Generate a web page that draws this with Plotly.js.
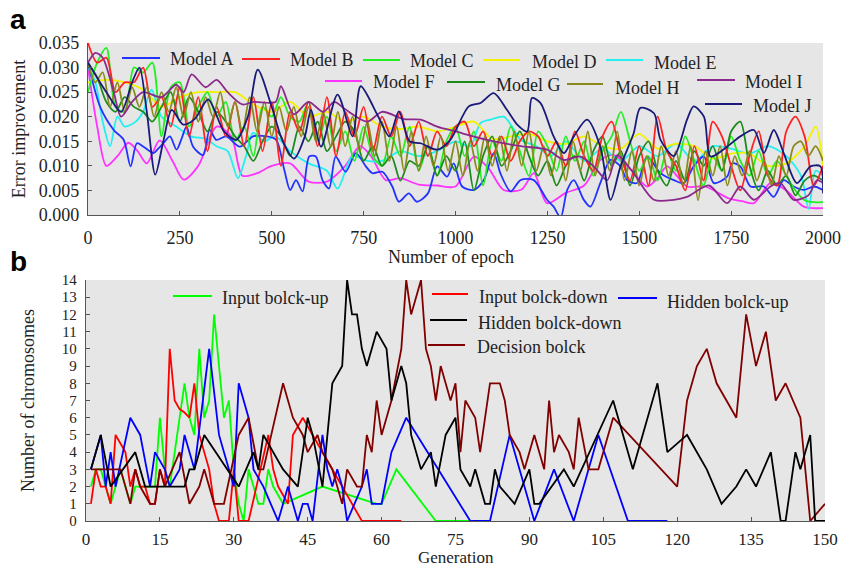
<!DOCTYPE html>
<html><head><meta charset="utf-8">
<script src="https://cdn.plot.ly/plotly-3.0.1.min.js"></script>
<style>html,body{margin:0;padding:0;background:#fff}#chart{width:841px;height:568px}</style>
</head><body><div id="chart"></div>
<script>
// ---------- Panel a data ----------
const epochs25 = [0,25,50,75,100,125,150,175,200,225,250,275,300,325,350,375,400,425,450,475,500,525,550,575,600,625,650,675,700,725,750,775,800,825,850,875,900,925,950,975,1000,1025,1050,1075,1100,1125,1150,1175,1200,1225,1250,1275,1300,1325,1350,1375,1400,1425,1450,1475,1500,1525,1550,1575,1600,1625,1650,1675,1700,1725,1750,1775,1800,1825,1850,1875,1900,1925,1950,1975,2000];
const epochs20 = [0,20,40,60,80,100,120,140,160,180,200,220,240,260,280,300,320,340,360,380,400,420,440,460,480,500,520,540,560,580,600,620,640,660,680,700,720,740,760,780,800,820,840,860,880,900,920,940,960,980,1000,1020,1040,1060,1080,1100,1120,1140,1160,1180,1200,1220,1240,1260,1280,1300,1320,1340,1360,1380,1400,1420,1440,1460,1480,1500,1520,1540,1560,1580,1600,1620,1640,1660,1680,1700,1720,1740,1760,1780,1800,1820,1840,1860,1880,1900,1920,1940,1960,1980,2000];

const xA = [0,33,70,97,116,133,151,178,191,205,223,241,255,268,286,313,331,349,376,413,449,485,512,534,550,566,584,602,620,638,656,674,701,729,756,774,801,828,846,873,895,925,950,977,995,1018,1050,1077,1104,1122,1150,1177,1213,1249,1267,1286,1304,1322,1349,1367,1394,1422,1449,1467,1494,1521,1558,1594,1621,1648,1676,1703,1739,1753,1775,1803,1839,1866,1893,1920,1948,1975,2000];
const yA = [0.031,0.022,0.0173,0.0153,0.0099,0.0146,0.0139,0.0126,0.0135,0.0146,0.016,0.0133,0.0156,0.018,0.0139,0.0122,0.0173,0.0153,0.016,0.0139,0.016,0.016,0.0153,0.0092,0.0051,0.0071,0.0048,0.0119,0.0119,0.0071,0.0054,0.0119,0.0088,0.0126,0.0099,0.0085,0.0088,0.0058,0.0027,0.0044,0.0027,0.0044,0.0099,0.0078,0.0105,0.0058,0.0051,0.0071,0.0126,0.0085,0.0048,0.0071,0.0071,0.0031,0.0017,-0.0005,0.0051,0.0071,0.0031,0.0017,0.0065,0.0112,0.0099,0.0071,0.0065,0.0119,0.0085,0.0071,0.0065,0.0099,0.0119,0.0065,0.0078,0.0105,0.0099,0.0058,0.0058,0.0037,0.0071,0.0058,0.0051,0.0058,0.0051];
const yB = [0.035,0.031,0.032,0.025,0.027,0.027,0.030,0.022,0.024,0.018,
 0.026,0.016,0.024,0.013,0.022,0.016,0.023,0.014,0.024,0.013,
 0.023,0.010,0.021,0.017,0.023,0.014,0.024,0.012,0.021,0.016,
 0.022,0.013,0.020,0.016,0.021,0.014,0.019,0.012,0.017,0.014,
 0.018,0.019,0.014,0.017,0.012,0.016,0.011,0.015,0.017,0.016,
 0.012,0.015,0.010,0.017,0.012,0.009,0.016,0.019,0.012,0.007,
 0.014,0.006,0.020,0.013,0.010,0.005,0.014,0.007,0.019,0.016,
 0.010,0.005,0.012,0.017,0.008,0.006,0.017,0.020,0.016,0.006,0.010];
const yC = [0.025,0.031,0.034,0.022,0.021,0.030,0.029,0.031,0.016,0.026,
 0.027,0.018,0.022,0.025,0.020,0.023,0.015,0.018,0.012,0.022,
 0.020,0.024,0.020,0.019,0.023,0.015,0.020,0.013,0.017,0.011,
 0.018,0.012,0.010,0.016,0.012,0.018,0.009,0.014,0.008,0.015,
 0.018,0.012,0.017,0.006,0.015,0.011,0.018,0.013,0.008,0.017,
 0.014,0.009,0.016,0.011,0.015,0.008,0.013,0.016,0.021,0.015,
 0.009,0.012,0.007,0.013,0.009,0.016,0.011,0.006,0.012,0.009,
 0.016,0.011,0.008,0.013,0.008,0.011,0.008,0.005,0.003,0.0026,0.0026];
const xD = [0,50,100,150,200,250,300,350,400,450,500,550,600,650,700,750,800,850,900,950,1000,1050,1100,1150,1200,1250,1300,1350,1400,1450,1500,1550,1600,1650,1700,1750,1800,1850,1900,1950,1980,2000];
const yD = [0.027,0.0275,0.027,0.0255,0.022,0.024,0.025,0.025,0.025,0.0225,0.021,0.023,0.020,0.021,0.019,0.020,0.018,0.0175,0.018,0.017,0.018,0.019,0.0155,0.016,0.0165,0.015,0.0145,0.016,0.014,0.0135,0.0165,0.0135,0.0145,0.014,0.0115,0.0125,0.0125,0.010,0.0105,0.014,0.018,0.010];
const xE = [0,20,40,60,80,100,130,150,173,200,240,280,320,350,380,408,430,449,480,510,550,600,650,679,720,760,800,850,900,950,1000,1040,1068,1095,1131,1154,1177,1220,1260,1300,1350,1400,1450,1500,1550,1600,1650,1700,1750,1800,1850,1900,1940,1961,1980,2000];
const yE = [0.030,0.027,0.019,0.014,0.020,0.018,0.019,0.021,0.0255,0.020,0.018,0.016,0.0155,0.014,0.013,0.0075,0.012,0.0167,0.015,0.016,0.013,0.0105,0.009,0.0054,0.012,0.011,0.011,0.013,0.012,0.013,0.015,0.014,0.0187,0.0194,0.020,0.018,0.0153,0.014,0.012,0.015,0.011,0.0135,0.011,0.014,0.012,0.0145,0.011,0.014,0.0135,0.0125,0.014,0.012,0.008,0.0012,0.009,0.008];
const xF = [0,25,50,80,110,135,160,195,230,260,300,350,390,420,460,500,550,600,650,700,740,770,810,850,900,950,1000,1050,1090,1131,1180,1213,1249,1300,1350,1394,1431,1480,1521,1550,1576,1630,1680,1740,1780,1812,1857,1900,1948,2000];
const yF = [0.030,0.018,0.010,0.012,0.0147,0.013,0.0105,0.0152,0.011,0.0072,0.010,0.018,0.016,0.008,0.0085,0.010,0.0105,0.0068,0.0068,0.010,0.014,0.012,0.0071,0.0075,0.0062,0.006,0.0058,0.0119,0.0095,0.0051,0.0052,0.0085,0.0024,0.0045,0.006,0.0112,0.0122,0.009,0.0058,0.0075,0.0099,0.0058,0.0058,0.0035,0.0028,0.0024,0.0065,0.005,0.0017,0.0014];
const yG = [0.031,0.028,0.023,0.021,0.024,0.022,0.021,0.019,0.022,0.025,
 0.019,0.024,0.021,0.017,0.021,0.019,0.016,0.014,0.011,0.015,
 0.018,0.016,0.012,0.018,0.015,0.019,0.013,0.016,0.019,0.017,
 0.011,0.014,0.010,0.012,0.007,0.011,0.010,0.014,0.008,0.012,
 0.009,0.015,0.005,0.012,0.016,0.010,0.013,0.017,0.012,0.008,
 0.011,0.006,0.010,0.012,0.007,0.013,0.016,0.010,0.013,0.006,
 0.012,0.015,0.009,0.006,0.011,0.007,0.013,0.010,0.014,0.009,
 0.017,0.019,0.010,0.005,0.009,0.006,0.008,0.004,0.007,0.008,0.007];
const yH = [0.031,0.027,0.029,0.022,0.027,0.021,0.026,0.022,0.026,0.020,
 0.025,0.021,0.026,0.020,0.025,0.019,0.024,0.020,0.025,0.018,
 0.023,0.017,0.024,0.017,0.023,0.016,0.022,0.017,0.022,0.016,
 0.022,0.015,0.021,0.014,0.021,0.014,0.020,0.013,0.019,0.012,
 0.019,0.011,0.018,0.009,0.017,0.009,0.016,0.010,0.016,0.009,
 0.015,0.008,0.015,0.009,0.016,0.010,0.016,0.009,0.017,0.010,
 0.017,0.009,0.014,0.008,0.014,0.007,0.015,0.009,0.017,0.008,
 0.014,0.009,0.017,0.007,0.013,0.006,0.012,0.007,0.014,0.008,
 0.013,0.006,0.014,0.003,0.013,0.008,0.014,0.006,0.012,0.008,
 0.013,0.007,0.011,0.006,0.012,0.008,0.014,0.015,0.012,0.014,0.011];
const xI = [0,20,40,70,90,120,150,200,240,260,282,320,350,380,420,450,510,525,560,600,640,670,700,760,800,860,905,950,1000,1086,1177,1249,1295,1340,1376,1413,1440,1480,1540,1594,1630,1690,1739,1775,1812,1857,1884,1920,1960,1984,2000];
const yI = [0.031,0.033,0.032,0.025,0.020,0.023,0.025,0.024,0.0265,0.025,0.0286,0.026,0.0275,0.025,0.0225,0.023,0.023,0.0262,0.0205,0.023,0.021,0.023,0.0215,0.019,0.021,0.0195,0.0194,0.018,0.017,0.0153,0.014,0.0133,0.0112,0.0119,0.0099,0.0071,0.0122,0.009,0.0031,0.0031,0.0037,0.006,0.0024,0.0058,0.0031,0.0058,0.0065,0.0031,0.004,0.0071,0.0065];
const xJ = [0,50,90,120,140,160,183,205,228,259,290,327,370,404,435,462,500,530,561,590,607,634,679,720,742,790,820,846,875,905,950,986,1036,1068,1104,1140,1168,1195,1208,1231,1267,1295,1322,1358,1394,1422,1449,1485,1503,1540,1558,1594,1630,1648,1676,1694,1739,1775,1812,1839,1866,1893,1929,1966,1993,2000];
const yJ = [0.031,0.025,0.021,0.027,0.030,0.021,0.0082,0.015,0.0214,0.0184,0.0195,0.0235,0.017,0.0153,0.020,0.0296,0.022,0.015,0.0115,0.016,0.0214,0.0139,0.0245,0.016,0.0262,0.020,0.016,0.0211,0.015,0.0146,0.0133,0.0153,0.0221,0.0228,0.0248,0.0214,0.0184,0.017,0.0238,0.0228,0.016,0.0126,0.016,0.0194,0.0139,0.0031,0.0099,0.0167,0.0218,0.0207,0.0153,0.012,0.0194,0.0221,0.020,0.0119,0.0139,0.016,0.0173,0.0126,0.0173,0.0126,0.0065,0.0099,0.0099,0.0044];

const modelNames = ["Model A","Model B","Model C","Model D","Model E","Model F","Model G","Model H","Model I","Model J"];
const epochTicks = [0,250,500,750,1000,1250,1500,1750,2000];

// ---------- Panel b data ----------
const gInUp = [1,2,3,4,5,6,7,8,9,10,11,12,13,14,15,16,17,18,19,20,21,22,23,24,25,26,28,29,30,31,32,33,34,35,36,37,38,40,48,59,60,63,71,79];
const vInUp = [2,3,3,2,1,2,3,2,1,2,2,2,2,2,6,3,2,4,6,8,6,5,10,6,7,12,6,7,3,1,0,3,2,1,1,3,2,1,2,1,1,3,0,0];
const gInDown = [1,2,3,4,5,6,7,8,9,10,11,12,13,14,15,16,17,18,19,20,21,22,23,24,25,26,27,29,30,31,33,37,38,39,41,42,44,46,48,50,52,54,56,64];
const vInDown = [1,3,2,2,1,5,4.5,4,2,3,2,2,1,1,3,2,10,7,6.5,6.3,6,8,5,4,3,1,0,0,3,0,0,5,3,2,1,5,6,5,4,3,2,1,0,0];
const gHidUp = [1,3,4,5,6,9,11,13,14,16,17,19,20,22,25,27,29,30,31,33,34,36,39,41,43,44,45,46,48,49,50,51,52,53,56,57,58,60,62,65,78,82,86,91,95,99,104,110,118];
const vHidUp = [3,5,2,4,2,6,5,2,4,3,2,3,5,3,10,5,3,2,8,6,3,2,0,2,0,1,1,0,5,3,2,3,2,0,2,3,1,1,4,6,0,0,5,0,3,0,5,0,0];
const gHidDown = [1,3,5,10,12,20,21,22,24,31,34,35,36,40,43,45,46,48,50,52,53,54,55,56,57,59,61,62,64,65,66,68,70,71,73,75,76,78,79,81,82,83,84,87,90,91,92,97,99,107,111,116,118,122,126,129,132,134,136,139,141,142,144,145,147,148,150];
const vHidDown = [3,5,2,4,2,2,3,3,5,2,4,3,5,3,2,6,5,2,8,9,14,12,12,10,9,11,10,7,9,8,5,3,4,2,5,6,3,2,3,1,1,3,2,1,3,1,1,3,2,7,3,8,4,5,3,1,2,3,2,4,0,0,4,3,5,0,0];
const gDec = [1,7,9,10,11,13,14,15,16,19,21,23,24,26,28,31,33,35,36,40,42,44,45,47,48,50,52,53,55,56,57,58,59,60,62,64,65,66,68,69,70,71,72,74,75,76,77,79,80,82,84,85,86,88,89,91,93,94,95,96,98,99,100,102,104,107,120,122,124,126,128,132,134,136,138,140,142,145,147,150];
const vDec = [3,3,1,3,2,1,1,3,2,4,1,2,3,1,1,5,6,3,3,8,6,5,4,5,4,3,1,3,2,2,5,4,7,5,7,10,14,12,14,10,9,7,9,7,8,4,7,6,4,8,8,7,5,4,3,5,3,7,4,5,4,3,6,3,3,6,2,7,9,10,8,6,12,9,11,7,8,6,0,1];
const blockNames = ["Input bolck-up","Input bolck-down","Hidden bolck-up","Hidden bolck-down","Decision bolck"];

// ---------- styling ----------
const W = 841, H = 568;
const px = x => x / W, py = y => 1 - y / H;
const FONT = "Liberation Serif";
const SANS = "Liberation Sans";
const TXT = {family:FONT, size:18, color:'#222'};
const modelColors = ["#2233ff","#ff2222","#22ee22","#f2f200","#22f0f0","#ff33ff","#1d8a1d","#8a8a1c","#8b2a8b","#1a1a7a"];
const blockColors = ["#00ff00","#ff0000","#0000ff","#000000","#800000"];

const topSeries = [
  [xA,yA],[epochs25,yB],[epochs25,yC],[xD,yD],[xE,yE],[xF,yF],[epochs25,yG],[epochs20,yH],[xI,yI],[xJ,yJ]
];
const drawOrder = [5,4,3,0,2,6,1,7,8,9];
const traces = [];
drawOrder.forEach(i => {
  traces.push({x: topSeries[i][0], y: topSeries[i][1], type:'scatter', mode:'lines', name: modelNames[i],
    line:{color:modelColors[i], width:1.8, shape:'spline', smoothing:0.8}, xaxis:'x', yaxis:'y', showlegend:false, hoverinfo:'skip'});
});
const botSeries = [[gInUp,vInUp],[gInDown,vInDown],[gHidUp,vHidUp],[gHidDown,vHidDown],[gDec,vDec]];
[0,1,2,4,3].forEach(i => {
  traces.push({x: botSeries[i][0], y: botSeries[i][1], type:'scatter', mode:'lines', name: blockNames[i],
    line:{color:blockColors[i], width:1.8}, xaxis:'x2', yaxis:'y2', showlegend:false, hoverinfo:'skip'});
});

// manual legends (layout only)
const topLegend = [
  [122,160,58,168,59],[242,280,59,288,60],[363,400,60,408,61],[483,520,60,530,62],[606,643,60,652,63],
  [325,362,81,371,82],[447,485,82,494,85],[567,603,84,613,88],[697,735,80,743,82],[705,742,104,751,106]
];
const botLegend = [
  [173,212,296,220,298],[432,468,294,477,297],[618,657,298,665,302],[430,467,320,476,323],[428,465,345,475,347]
];
const shapes = [], annotations = [];
function label(x, y, text, extra) {
  annotations.push(Object.assign({xref:'paper', yref:'paper', x:px(x), y:py(y), xanchor:'center', yanchor:'middle',
    text:text, showarrow:false, font:TXT}, extra || {}));
}
topLegend.forEach((p,i) => {
  shapes.push({type:'line', xref:'paper', yref:'paper', x0:px(p[0]), x1:px(p[1]), y0:py(p[2]), y1:py(p[2]), line:{color:modelColors[i], width:2}});
  label(p[3], p[4], modelNames[i], {xanchor:'left'});
});
botLegend.forEach((p,i) => {
  shapes.push({type:'line', xref:'paper', yref:'paper', x0:px(p[0]), x1:px(p[1]), y0:py(p[2]), y1:py(p[2]), line:{color:blockColors[i], width:2}});
  label(p[3], p[4], blockNames[i], {xanchor:'left'});
});
label(451, 257, 'Number of epoch');
label(456, 557, 'Generation', {font:{family:FONT, size:17, color:'#222'}});
label(18, 20, '<b>a</b>', {font:{family:SANS, size:28, color:'#000'}});
label(18, 262, '<b>b</b>', {font:{family:SANS, size:28, color:'#000'}});

const axBase = {showgrid:false, zeroline:false, showline:true, linecolor:'#555', linewidth:1.2, ticks:'inside', ticklen:4, tickcolor:'#555',
  tickfont:TXT, fixedrange:true, automargin:false};

const layout = {
  width:W, height:H, margin:{l:0,r:0,t:0,b:0}, paper_bgcolor:'#fff', plot_bgcolor:'#e6e6e6', showlegend:false,
  font:{family:FONT},
  xaxis: Object.assign({}, axBase, {domain:[px(88), px(823)], range:[0,2000], tickvals:epochTicks, anchor:'y', ticklabelstandoff:6}),
  yaxis: Object.assign({}, axBase, {domain:[py(215), py(43)], range:[0,0.035], dtick:0.005, tick0:0, tickformat:'.3f', anchor:'x', ticklabelstandoff:4,
    title:{text:'Error improvement', font:TXT, standoff:8}}),
  xaxis2: Object.assign({}, axBase, {domain:[px(86), px(825)], range:[0,150], dtick:15, tick0:0, anchor:'y2', ticklabelstandoff:2,
    tickfont:{family:FONT, size:17, color:'#222'}}),
  yaxis2: Object.assign({}, axBase, {domain:[py(521), py(280)], range:[0,14], dtick:1, tick0:0, anchor:'x2', ticklabelstandoff:5,
    tickfont:{family:FONT, size:15, color:'#222'},
    title:{text:'Number of chromosomes', font:TXT, standoff:22}}),
  shapes: shapes, annotations: annotations
};
Plotly.newPlot('chart', traces, layout, {displayModeBar:false, staticPlot:true});
</script></body></html>
